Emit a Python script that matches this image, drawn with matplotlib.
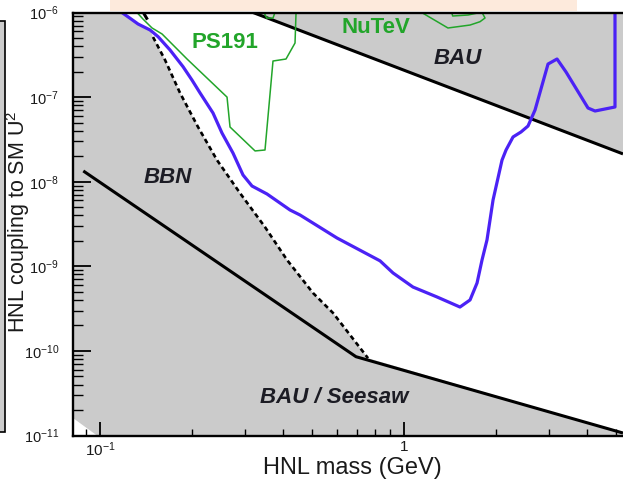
import matplotlib
matplotlib.use("Agg")
import matplotlib.pyplot as plt
from matplotlib.patches import Rectangle, Polygon
from matplotlib.ticker import LogLocator, NullFormatter

plt.rcParams['font.family'] = ['Liberation Sans', 'DejaVu Sans']
plt.rcParams['mathtext.default'] = 'regular'

# ---------------- data (HNL mass in GeV, coupling U^2) ----------------
# blue sensitivity curve
blue_mass = [0.118, 0.1256, 0.1334, 0.1461, 0.1552, 0.1699, 0.1875, 0.2007, 0.2133,
             0.2353, 0.2519, 0.2738, 0.2954, 0.3162, 0.3542, 0.4217, 0.4549, 0.6020,
             0.8340, 0.9202, 1.070, 1.284, 1.528, 1.649, 1.739, 1.806, 1.875, 1.963,
             2.101, 2.166, 2.284, 2.426, 2.558, 2.698, 2.977, 3.187, 3.412, 4.030,
             4.250, 4.944, 4.944]
blue_u2 = [1.0e-6, 8.54e-7, 7.31e-7, 6.21e-7, 5.18e-7, 3.61e-7, 2.29e-7, 1.59e-7, 1.12e-7,
           6.49e-8, 3.76e-8, 2.18e-8, 1.20e-8, 8.89e-9, 7.16e-9, 4.63e-9, 4.04e-9, 2.16e-9,
           1.16e-9, 8.34e-10, 5.69e-10, 4.34e-10, 3.30e-10, 4.00e-10, 6.35e-10, 1.19e-9,
           2.05e-9, 6.08e-9, 1.80e-8, 2.37e-8, 3.38e-8, 3.87e-8, 4.55e-8, 7.04e-8, 2.46e-7,
           2.82e-7, 1.98e-7, 7.43e-8, 6.85e-8, 7.64e-8, 1.0e-6]

# BBN bound (dashed)
bbn_mass = [0.1494, 0.1636, 0.1833, 0.2101, 0.2426, 0.2886, 0.3489, 0.4122, 0.5021,
            0.5840, 0.7614]
bbn_u2 = [5.13e-7, 2.75e-7, 1.12e-7, 4.43e-8, 1.80e-8, 7.35e-9, 2.91e-9, 1.19e-9,
          4.83e-10, 2.81e-10, 8.2e-11]

# BAU / seesaw lower bound
seesaw_mass = [0.0881, 0.695, 5.253]
seesaw_u2 = [1.34e-8, 8.54e-11, 1.07e-11]

# BAU upper bound
bau_mass = [0.3187, 5.253]
bau_u2 = [1.0e-6, 2.13e-8]

# short black segment at the top left
top_seg_mass = [0.1388, 0.1424]
top_seg_u2 = [1.0e-6, 8.54e-7]

# PS191 limit (green)
ps191_mass = [0.1323, 0.1384, 0.1483, 0.1600, 0.1933, 0.2617, 0.2677, 0.3236, 0.3489,
              0.3707, 0.4091, 0.4380, 0.4414]
ps191_u2 = [1.0e-6, 8.38e-7, 6.56e-7, 5.57e-7, 2.82e-7, 1.00e-7, 4.43e-8, 2.31e-8,
            2.37e-8, 2.67e-7, 2.82e-7, 4.36e-7, 1.0e-6]
ps191b_mass = [0.3463, 0.3535, 0.3707, 0.3763]
ps191b_u2 = [1.0e-6, 8.6e-7, 8.6e-7, 1.0e-6]

# NuTeV limit (green)
nutev_mass = [1.143, 1.395, 1.649, 1.778, 1.847, 1.806]
nutev_u2 = [1.0e-6, 6.56e-7, 7.11e-7, 7.78e-7, 8.61e-7, 1.0e-6]
nutevb_mass = [1.435, 1.446, 1.624, 1.778]
nutevb_u2 = [1.0e-6, 9.09e-7, 9.34e-7, 1.0e-6]

xtick_vals = [0.1, 1.0]
xtick_labels = ['$10^{-1}$', '1']
ytick_vals = [1e-11, 1e-10, 1e-9, 1e-8, 1e-7, 1e-6]
ytick_labels = ['$10^{-11}$', '$10^{-10}$', '$10^{-9}$', '$10^{-8}$', '$10^{-7}$', '$10^{-6}$']

# ---------------- figure ----------------
W, H = 623, 479
fig = plt.figure(figsize=(W / 100, H / 100), dpi=100)
fig.patch.set_facecolor('white')

# decorations from the page around the panel
fig.add_artist(Rectangle((110 / W, (H - 11) / H), (577 - 110) / W, 11 / H,
                         transform=fig.transFigure, facecolor='#fdeadc',
                         edgecolor='none', zorder=0))
fig.add_artist(Rectangle((-2 / W, (H - 432) / H), 6.5 / W, (432 - 21) / H,
                         transform=fig.transFigure, facecolor='#cccccc',
                         edgecolor='black', lw=1.2, zorder=0))

ax = fig.add_axes([73 / W, (H - 435.5) / H, (623 - 73) / W, (435.5 - 12.5) / H])
ax.set_xscale('log')
ax.set_yscale('log')
xmin, xmax = 0.08149, 5.253
ymin, ymax = 1e-11, 1e-6
ax.set_xlim(xmin, xmax)
ax.set_ylim(ymin, ymax)

gray = '#cbcbcb'
# left grey region (BBN excluded + below seesaw)
left_x = [xmin] + blue_mass[:4] + bbn_mass + [seesaw_mass[-1], seesaw_mass[-1], 0.0977, xmin]
left_y = [ymax] + blue_u2[:4] + bbn_u2 + [seesaw_u2[-1], ymin, ymin, 1.61e-11]
ax.add_patch(Polygon(list(zip(left_x, left_y)), closed=True, facecolor=gray,
                     edgecolor='none', zorder=1))
# upper-right grey region (BAU)
ax.add_patch(Polygon([(bau_mass[0], bau_u2[0]), (xmax, ymax), (bau_mass[1], bau_u2[1])],
                     closed=True, facecolor=gray, edgecolor='none', zorder=1))

ax.plot(seesaw_mass, seesaw_u2, color='black', lw=2.2, zorder=3, solid_capstyle='butt')
ax.plot(bau_mass, bau_u2, color='black', lw=2.2, zorder=3, solid_capstyle='butt')
ax.plot(top_seg_mass, top_seg_u2, color='black', lw=2.2, zorder=3)
ax.plot(bbn_mass, bbn_u2, color='black', lw=1.9, ls=(0, (1.8, 1.3)), zorder=3)

green = '#22a52a'
ax.plot(ps191_mass, ps191_u2, color=green, lw=1.1, zorder=3)
ax.plot(ps191b_mass, ps191b_u2, color=green, lw=1.1, zorder=3)
ax.plot(nutev_mass, nutev_u2, color=green, lw=1.1, zorder=3)
ax.plot(nutevb_mass, nutevb_u2, color=green, lw=1.1, zorder=3)

ax.plot(blue_mass, blue_u2, color='#4b22f5', lw=2.3, zorder=4, solid_joinstyle='round')

# region labels
txt_kw = dict(ha='center', va='baseline', fontsize=16, fontweight='bold', zorder=5)
ax.text(0.2577, 3.77e-7, 'PS191', color=green, **txt_kw)
ax.text(0.806, 5.77e-7, 'NuTeV', color=green, **txt_kw)
ax.text(1.50, 2.46e-7, 'BAU', color='#1c1c24', fontstyle='italic', **txt_kw)
ax.text(0.1674, 9.65e-9, 'BBN', color='#1c1c24', fontstyle='italic', **txt_kw)
ax.text(0.5886, 2.42e-11, 'BAU / Seesaw', color='#1c1c24', fontstyle='italic', **txt_kw)

# axes styling
ax.spines['right'].set_visible(False)
for s in ('left', 'bottom', 'top'):
    ax.spines[s].set_linewidth(1.7)
    ax.spines[s].set_zorder(6)
ax.set_axisbelow(False)

ax.set_xticks(xtick_vals, xtick_labels)
ax.set_yticks(ytick_vals, ytick_labels)
ax.xaxis.set_minor_locator(LogLocator(base=10, subs=range(2, 10), numticks=20))
ax.xaxis.set_minor_formatter(NullFormatter())
ax.yaxis.set_minor_locator(LogLocator(base=10, subs=range(2, 10), numticks=20))
ax.yaxis.set_minor_formatter(NullFormatter())
ax.tick_params(axis='x', which='major', direction='in', length=10, width=1.3,
               pad=3.5, labelsize=11, labelcolor='#1a1a1a', top=False)
ax.tick_params(axis='x', which='minor', direction='in', length=5, width=1.0, top=False)
ax.tick_params(axis='y', which='major', direction='in', length=13, width=1.3,
               pad=10, labelsize=10.5, labelcolor='#1a1a1a', right=False)
ax.tick_params(axis='y', which='minor', direction='in', length=7, width=1.0, right=False)
for t in ax.xaxis.get_major_ticks() + ax.yaxis.get_major_ticks() + \
        ax.xaxis.get_minor_ticks() + ax.yaxis.get_minor_ticks():
    t.tick1line.set_zorder(6)

fig.text(352.5 / W, (H - 474) / H, 'HNL mass (GeV)', ha='center', va='baseline',
         fontsize=17, color='#1a1a1a')
fig.text(18 / W, (H - 222) / H, 'HNL coupling to SM U$^2$', ha='center', va='center',
         rotation=90, fontsize=15.5, color='#1a1a1a')

fig.savefig('out.png', dpi=100, facecolor='white')
